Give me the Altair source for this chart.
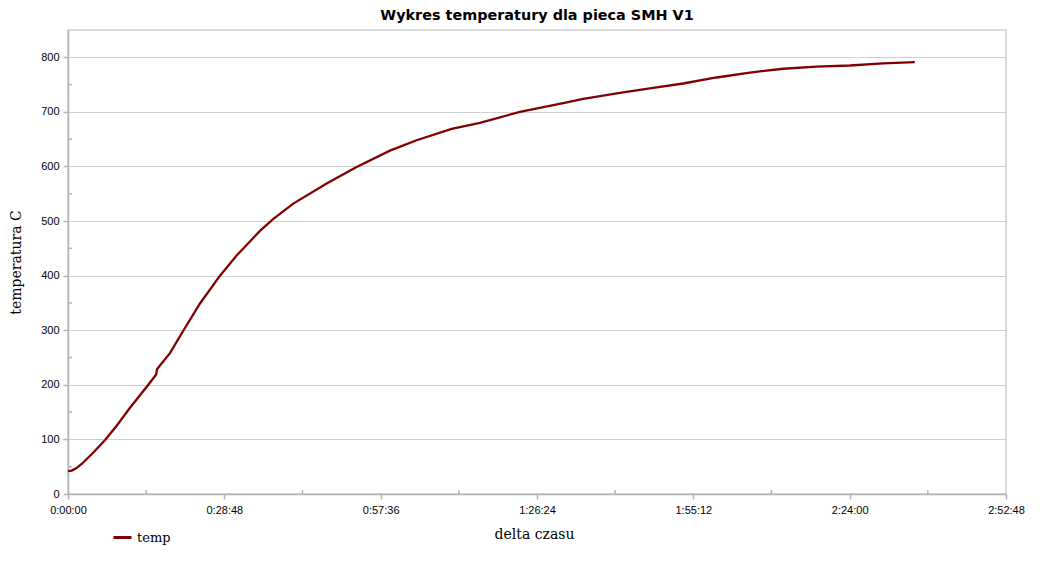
import altair as alt
import pandas as pd

# time in seconds from start, temperature in C
t_sec = [0, 41, 90, 151, 280, 410, 538, 685, 877, 975, 985, 1127, 1274, 1459, 1680,
         1864, 2122, 2270, 2490, 2859, 3190, 3559, 3853, 4240, 4553, 4995, 5474,
         5695, 6100, 6431, 6799, 7168, 7537, 7905, 8273, 8641, 9009, 9360]
temp = [42, 43, 47, 55, 76, 99, 125, 158, 198, 219, 229, 258, 299, 349, 400,
        437, 482, 504, 532, 569, 599, 629, 648, 669, 680, 700, 716,
        724, 735, 743, 752, 763, 772, 779, 783, 785, 789, 791]
series_name = "temp"

x_major = [0, 1728, 3456, 5184, 6912, 8640, 10368]
x_minor = [864, 2592, 4320, 6048, 7776, 9504]
y_major = [0, 100, 200, 300, 400, 500, 600, 700, 800]
y_minor = [50, 150, 250, 350, 450, 550, 650, 750]

W, H = 938, 464
AXIS_COL = "#b3b3b3"
GRID_COL = "#d0d0d0"

df = pd.DataFrame({"t": t_sec, "v": temp, "series": [series_name] * len(t_sec)})
dfx = pd.DataFrame({"t": x_minor})
dfy = pd.DataFrame({"v": y_minor})

label_expr = ("floor(datum.value/3600) + ':' + pad(floor(datum.value/60)%60, 2, '0', 'left')"
              " + ':' + pad(datum.value%60, 2, '0', 'left')")

x_enc = alt.X(
    "t:Q",
    scale=alt.Scale(domain=[0, 10368], nice=False, zero=False),
    axis=alt.Axis(
        title="delta czasu", values=x_major, labelExpr=label_expr, grid=False,
        domainColor=AXIS_COL, domainWidth=1.5, tickColor=AXIS_COL, tickWidth=1.5,
        tickSize=5, labelPadding=5, labelFont="Liberation Sans", labelFontSize=11,
        labelColor="#000000", titleFont="DejaVu Serif", titleFontSize=14,
        titleFontWeight="normal", titleColor="#000000", titleX=466, titleY=40,
        titleAlign="center", titleBaseline="middle", labelFlush=False,
    ),
)
y_enc = alt.Y(
    "v:Q",
    scale=alt.Scale(domain=[0, 850], nice=False),
    axis=alt.Axis(
        title="temperatura C", values=y_major, grid=True, gridColor=GRID_COL,
        gridWidth=1.2, domainColor=AXIS_COL, domainWidth=1.5, tickColor=AXIS_COL,
        tickWidth=1.5, tickSize=5, labelPadding=4, labelFont="Liberation Sans",
        labelFontSize=11, labelColor="#000000", titleFont="DejaVu Serif",
        titleFontSize=14, titleFontWeight="normal", titleColor="#000000",
        titleX=-52, titleY=232, titleAlign="center", titleBaseline="middle",
        titleAngle=270,
    ),
)

line = alt.Chart(df).mark_line(strokeWidth=2.3, interpolate="linear").encode(
    x=x_enc,
    y=y_enc,
    color=alt.Color(
        "series:N",
        scale=alt.Scale(domain=[series_name], range=["#800000"]),
        legend=alt.Legend(
            title=None, orient="none", legendX=44, legendY=497, symbolType="stroke",
            symbolStrokeWidth=3, symbolSize=324, labelFont="DejaVu Serif",
            labelFontSize=13, labelColor="#000000", padding=0, labelOffset=4,
        ),
    ),
)

minor_x = alt.Chart(dfx).mark_rule(color=AXIS_COL, strokeWidth=1.5).encode(
    x=x_enc, y=alt.value(H - 4), y2=alt.value(H)
)
minor_y = alt.Chart(dfy).mark_rule(color=AXIS_COL, strokeWidth=1.5).encode(
    y=y_enc, x=alt.value(0), x2=alt.value(4)
)

chart = (
    alt.layer(minor_x, minor_y, line)
    .properties(
        width=W,
        height=H,
        title=alt.TitleParams(
            "Wykres temperatury dla pieca SMH V1", font="DejaVu Sans", fontSize=14.4,
            fontWeight="bold", color="#000000", anchor="middle", offset=7,
        ),
        autosize=alt.AutoSizeParams(type="none"),
        padding={"left": 60, "top": 22, "right": 33, "bottom": 60},
        background="#ffffff",
    )
    .configure_view(stroke=GRID_COL, strokeWidth=1.5)
)

chart.save("out.html", embed_options={"renderer": "svg", "actions": False})
